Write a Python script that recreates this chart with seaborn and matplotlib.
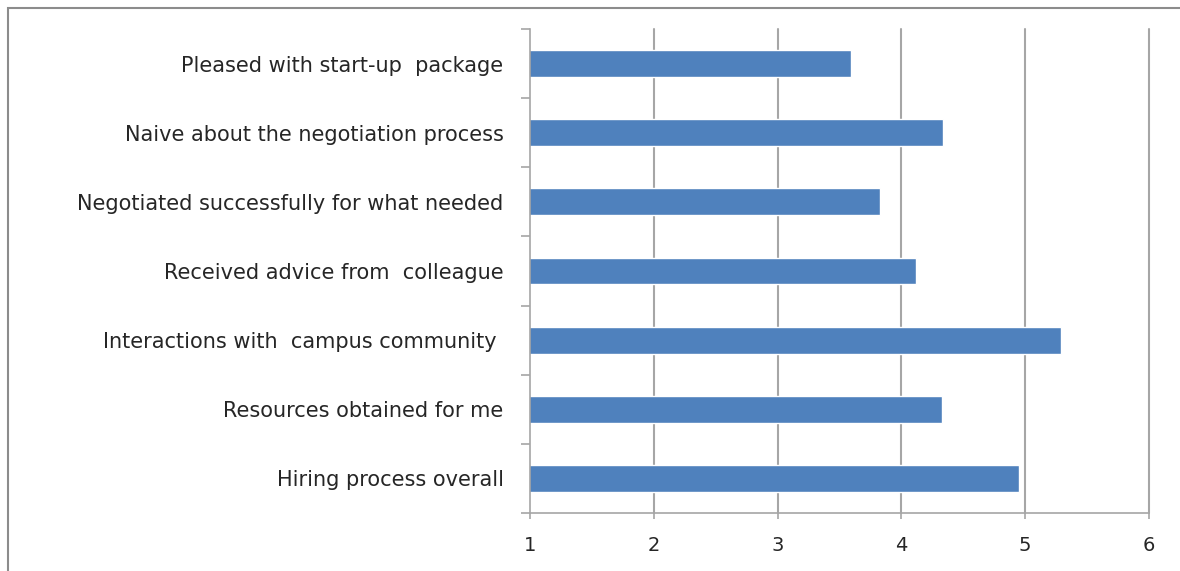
"""Horizontal bar chart of faculty hiring survey means."""

import matplotlib.pyplot as plt
import pandas as pd
import seaborn as sns
from matplotlib.patches import Rectangle

categories = [
    "Pleased with start-up  package",
    "Naive about the negotiation process",
    "Negotiated successfully for what needed",
    "Received advice from  colleague",
    "Interactions with  campus community ",
    "Resources obtained for me",
    "Hiring process overall",
]
means = [3.59, 4.34, 3.83, 4.12, 5.29, 4.33, 4.95]
x_ticks = [1, 2, 3, 4, 5, 6]

BAR_COLOR = "#4F81BD"
GRID_COLOR = "#A6A6A6"
TEXT_COLOR = "#262626"

sns.set_style("white")
plt.rcParams["font.family"] = ["DejaVu Sans"]

df = pd.DataFrame({"item": categories, "mean": means})

fig = plt.figure(figsize=(11.8, 5.71), dpi=100)
ax = fig.add_axes([530 / 1180, 1 - 513 / 571, (1149 - 530) / 1180, (513 - 29) / 571])

sns.barplot(data=df, x="mean", y="item", orient="h", color=BAR_COLOR,
            width=0.39, saturation=1, ax=ax)

ax.set_xlim(1, 6)
ax.set_ylim(len(categories) - 0.5, -0.5)
ax.set_xticks(x_ticks)
ax.set_xlabel("")
ax.set_ylabel("")

# vertical gridlines
for v in x_ticks[1:]:
    ax.axvline(v, color=GRID_COLOR, lw=1.5, zorder=0, clip_on=False)

# category boundary ticks on the y axis
ax.set_yticks([i - 0.5 for i in range(len(categories) + 1)], minor=True)
ax.tick_params(axis="y", which="major", length=0, pad=19, labelsize=15, labelcolor=TEXT_COLOR)
ax.tick_params(axis="y", which="minor", length=6.5, width=1.2, color=GRID_COLOR, direction="out", left=True)
ax.tick_params(axis="x", which="major", length=4.5, width=1.2, color=GRID_COLOR, direction="out",
               bottom=True, pad=12, labelsize=14, labelcolor=TEXT_COLOR)

for side in ["top", "right"]:
    ax.spines[side].set_visible(False)
for side in ["left", "bottom"]:
    ax.spines[side].set_color(GRID_COLOR)
    ax.spines[side].set_linewidth(1.2)

# outer chart border
fig.patches.append(Rectangle((8 / 1180, -0.05), 1.2, 1 - 8 / 571 + 0.05, transform=fig.transFigure,
                             fill=False, edgecolor="#8C8C8C", lw=1.5))

fig.savefig("out.png", dpi=100)
